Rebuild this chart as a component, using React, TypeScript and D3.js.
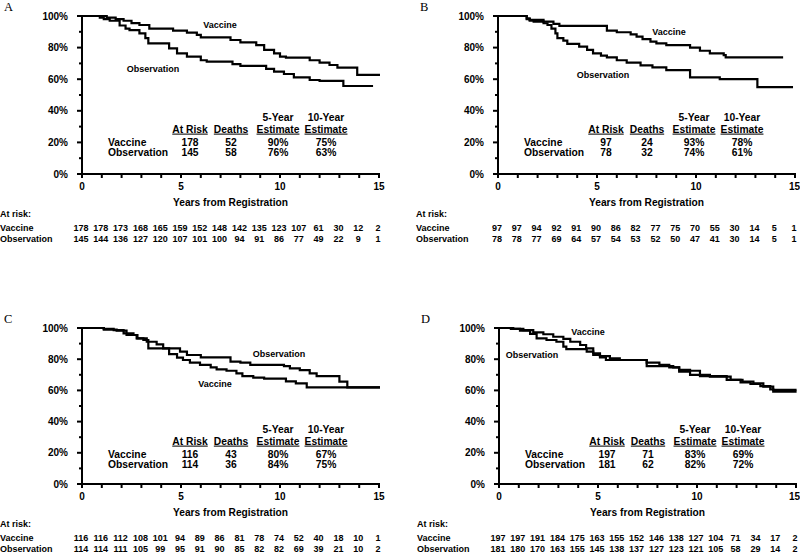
import React from "react";
import * as d3 from "d3";

// survival curves (years, fraction alive)
const aVacT = [0, 1.25, 1.7, 2.1, 2.5, 2.9, 3.4, 4.6, 5.3, 5.8, 6.0, 7.5, 8.0, 8.8, 9.2, 9.7, 10.0, 10.3, 11.5, 12.0, 12.5, 12.9, 13.9, 15.05];
const aVacS = [1, 0.99, 0.98, 0.97, 0.955, 0.943, 0.92, 0.907, 0.895, 0.88, 0.865, 0.848, 0.833, 0.816, 0.785, 0.764, 0.743, 0.736, 0.72, 0.705, 0.69, 0.673, 0.627, 0.627];
const aObsT = [0, 0.9, 1.1, 1.4, 1.9, 2.2, 2.4, 2.9, 3.2, 3.35, 4.4, 4.8, 5.3, 6.0, 6.3, 7.6, 8.0, 9.3, 9.7, 10.2, 10.7, 11.5, 12.0, 13.2, 14.7];
const aObsS = [1, 0.99, 0.98, 0.97, 0.94, 0.92, 0.91, 0.89, 0.86, 0.827, 0.795, 0.764, 0.743, 0.72, 0.711, 0.696, 0.684, 0.665, 0.648, 0.633, 0.612, 0.595, 0.589, 0.557, 0.557];

const bVacT = [0, 1.45, 1.6, 2.3, 2.8, 3.1, 5.5, 6.0, 6.7, 7.0, 7.3, 7.7, 8.0, 8.5, 9.7, 10.2, 10.7, 11.4, 11.5, 14.4];
const bVacS = [1, 0.985, 0.975, 0.964, 0.95, 0.937, 0.907, 0.897, 0.884, 0.87, 0.854, 0.838, 0.827, 0.816, 0.8, 0.78, 0.764, 0.753, 0.738, 0.738];
const bObsT = [0, 1.45, 1.6, 1.8, 2.3, 2.5, 2.7, 2.9, 3.0, 3.3, 3.5, 4.1, 4.5, 4.8, 5.2, 5.5, 6.0, 6.5, 7.2, 7.8, 8.5, 9.7, 11.2, 13.1, 14.9];
const bObsS = [1, 0.98, 0.97, 0.964, 0.954, 0.943, 0.92, 0.89, 0.86, 0.844, 0.823, 0.806, 0.785, 0.764, 0.749, 0.738, 0.72, 0.705, 0.688, 0.675, 0.658, 0.612, 0.6, 0.55, 0.55];

const cVacT = [0, 1.1, 1.75, 2.25, 2.76, 3.27, 3.77, 4.1, 4.4, 4.8, 5.1, 5.45, 5.96, 6.5, 6.8, 7.3, 7.8, 8.1, 8.65, 9.2, 10.3, 10.8, 11.35, 15.05];
const cVacS = [1, 0.99, 0.983, 0.955, 0.934, 0.912, 0.895, 0.87, 0.833, 0.81, 0.795, 0.778, 0.763, 0.748, 0.735, 0.726, 0.709, 0.692, 0.682, 0.675, 0.658, 0.645, 0.62, 0.62];
const cObsT = [0, 1.1, 1.6, 2.1, 2.6, 2.8, 3.1, 3.35, 4.95, 5.3, 6.0, 7.5, 8.0, 8.5, 10.2, 10.5, 11.0, 11.5, 11.85, 13.0, 13.4, 15.05];
const cObsS = [1, 0.995, 0.987, 0.966, 0.955, 0.934, 0.923, 0.87, 0.848, 0.827, 0.812, 0.784, 0.778, 0.763, 0.756, 0.741, 0.73, 0.709, 0.692, 0.656, 0.62, 0.62];

const dVacT = [0, 0.72, 1.23, 1.73, 2.24, 2.74, 3.25, 3.6, 4.1, 4.4, 4.76, 5.1, 5.6, 6.1, 7.46, 8.1, 8.6, 9.1, 9.65, 10.15, 10.65, 11.7, 12.2, 12.7, 13.2, 13.7, 13.85, 15.03];
const dVacS = [1, 0.995, 0.987, 0.972, 0.96, 0.944, 0.93, 0.912, 0.891, 0.87, 0.838, 0.82, 0.806, 0.795, 0.778, 0.763, 0.748, 0.731, 0.726, 0.7, 0.688, 0.667, 0.652, 0.641, 0.628, 0.607, 0.603, 0.603];
const dObsT = [0, 0.6, 1.06, 1.57, 1.9, 2.4, 2.9, 3.25, 3.4, 4.43, 4.76, 5.1, 5.4, 7.46, 8.8, 9.1, 9.65, 10.15, 11.5, 12.3, 12.85, 13.35, 13.85, 15.03];
const dObsS = [1, 0.995, 0.983, 0.962, 0.934, 0.923, 0.912, 0.88, 0.865, 0.848, 0.827, 0.812, 0.795, 0.756, 0.748, 0.72, 0.7, 0.692, 0.667, 0.656, 0.645, 0.624, 0.592, 0.592];

// numbers at risk, years 0..15
const aVacRisk = [178, 178, 173, 168, 165, 159, 152, 148, 142, 135, 123, 107, 61, 30, 12, 2];
const aObsRisk = [145, 144, 136, 127, 120, 107, 101, 100, 94, 91, 86, 77, 49, 22, 9, 1];
const bVacRisk = [97, 97, 94, 92, 91, 90, 86, 82, 77, 75, 70, 55, 30, 14, 5, 1];
const bObsRisk = [78, 78, 77, 69, 64, 57, 54, 53, 52, 50, 47, 41, 30, 14, 5, 1];
const cVacRisk = [116, 116, 112, 108, 101, 94, 89, 86, 81, 78, 74, 52, 40, 18, 10, 1];
const cObsRisk = [114, 114, 111, 105, 99, 95, 91, 90, 85, 82, 82, 69, 39, 21, 10, 2];
const dVacRisk = [197, 197, 191, 184, 175, 163, 155, 152, 146, 138, 127, 104, 71, 34, 17, 2];
const dObsRisk = [181, 180, 170, 163, 155, 145, 138, 137, 127, 123, 121, 105, 58, 29, 14, 2];

// summary tables: at risk, deaths, 5-year, 10-year
const aVacSummary = ["178", "52", "90%", "75%"];
const aObsSummary = ["145", "58", "76%", "63%"];
const bVacSummary = ["97", "24", "93%", "78%"];
const bObsSummary = ["78", "32", "74%", "61%"];
const cVacSummary = ["116", "43", "80%", "67%"];
const cObsSummary = ["114", "36", "84%", "75%"];
const dVacSummary = ["197", "71", "83%", "69%"];
const dObsSummary = ["181", "62", "82%", "72%"];

const yTicks = [0, 0.2, 0.4, 0.6, 0.8, 1];
const yMinorTicks = [0.1, 0.3, 0.5, 0.7, 0.9];
const xTicks = [0, 5, 10, 15];
const xMinorTicks = d3.range(0, 16);

const FONT = "'Liberation Sans', Arial, sans-serif";
const W = 800;

const panels = [
  { letter: "A", x0: 82, top: 16, bottom: 174, vac: [aVacT, aVacS], obs: [aObsT, aObsS], risk: [aVacRisk, aObsRisk], summary: [aVacSummary, aObsSummary], vacLabel: [6.97, 0.943], obsLabel: [3.59, 0.665] },
  { letter: "B", x0: 498, top: 16, bottom: 174, vac: [bVacT, bVacS], obs: [bObsT, bObsS], risk: [bVacRisk, bObsRisk], summary: [bVacSummary, bObsSummary], vacLabel: [8.64, 0.899], obsLabel: [5.3, 0.627] },
  { letter: "C", x0: 82, top: 328, bottom: 484, vac: [cVacT, cVacS], obs: [cObsT, cObsS], risk: [cVacRisk, cObsRisk], summary: [cVacSummary, cObsSummary], vacLabel: [6.72, 0.641], obsLabel: [9.95, 0.833] },
  { letter: "D", x0: 499, top: 328, bottom: 484, vac: [dVacT, dVacS], obs: [dObsT, dObsS], risk: [dVacRisk, dObsRisk], summary: [dVacSummary, dObsSummary], vacLabel: [4.5, 0.974], obsLabel: [1.67, 0.827] },
];

const Panel = ({ p }) => {
  const x = d3.scaleLinear().domain([0, 15]).range([p.x0, p.x0 + 297]);
  const y = d3.scaleLinear().domain([0, 1]).range([p.bottom, p.top]);
  const line = d3
    .line()
    .x((d) => x(d[0]))
    .y((d) => y(d[1]))
    .curve(d3.curveStepAfter);
  const pts = (ts, ss) => ts.map((t, i) => [t, ss[i]]);

  const cols = [108, 149, 196, 244];
  const rowNames = ["Vaccine", "Observation"];
  const bold = { fontFamily: FONT, fontWeight: "bold" };

  return (
    <g>
      <text x={p.x0 - 78} y={p.top - 5} style={{ fontFamily: "'Liberation Serif', 'Times New Roman', serif", fontSize: 12.5 }}>
        {p.letter}
      </text>

      {/* curves */}
      <path d={line(pts(p.vac[0], p.vac[1]))} fill="none" stroke="#000" strokeWidth={2.2} />
      <path d={line(pts(p.obs[0], p.obs[1]))} fill="none" stroke="#000" strokeWidth={2.2} />

      {/* axes */}
      <line x1={p.x0} x2={p.x0} y1={p.top} y2={p.bottom + 1} stroke="#000" strokeWidth={2} />
      <line x1={p.x0 - 1} x2={x(15) + 1} y1={p.bottom} y2={p.bottom} stroke="#000" strokeWidth={2} />
      {yTicks.map((v) => (
        <g key={"y" + v}>
          <line x1={p.x0 - 5} x2={p.x0} y1={y(v)} y2={y(v)} stroke="#000" strokeWidth={2} />
          <text x={p.x0 - 14} y={y(v)} dy="0.35em" textAnchor="end" style={{ ...bold, fontSize: 10 }}>
            {d3.format(".0%")(v)}
          </text>
        </g>
      ))}
      {yMinorTicks.map((v) => (
        <line key={"ym" + v} x1={p.x0 - 3} x2={p.x0} y1={y(v)} y2={y(v)} stroke="#000" strokeWidth={2} />
      ))}
      {xMinorTicks.map((v) => (
        <line key={"xm" + v} x1={x(v)} x2={x(v)} y1={p.bottom} y2={p.bottom + 4} stroke="#000" strokeWidth={2} />
      ))}
      {xTicks.map((v) => {
        const edge = x(v) + 6 > W;
        return (
          <text key={"x" + v} x={edge ? W : x(v)} y={p.bottom + 12} dy="0.35em" textAnchor={edge ? "end" : "middle"} style={{ ...bold, fontSize: 10 }}>
            {v}
          </text>
        );
      })}
      <text x={(x(0) + x(15)) / 2} y={p.bottom + 28} dy="0.35em" textAnchor="middle" style={{ ...bold, fontSize: 10.2 }}>
        Years from Registration
      </text>

      {/* curve labels */}
      <text x={x(p.vacLabel[0])} y={y(p.vacLabel[1])} dy="0.35em" textAnchor="middle" style={{ ...bold, fontSize: 9 }}>
        Vaccine
      </text>
      <text x={x(p.obsLabel[0])} y={y(p.obsLabel[1])} dy="0.35em" textAnchor="middle" style={{ ...bold, fontSize: 9 }}>
        Observation
      </text>

      {/* summary table */}
      <g style={{ ...bold, fontSize: 10.3 }}>
        <text x={p.x0 + cols[2]} y={p.top + 101} dy="0.35em" textAnchor="middle">5-Year</text>
        <text x={p.x0 + cols[3]} y={p.top + 101} dy="0.35em" textAnchor="middle">10-Year</text>
        {["At Risk", "Deaths", "Estimate", "Estimate"].map((h, i) => (
          <text key={h + i} x={p.x0 + cols[i]} y={p.top + 113} dy="0.35em" textAnchor="middle" textDecoration="underline">
            {h}
          </text>
        ))}
        {p.summary.map((row, r) => (
          <g key={"s" + r}>
            <text x={p.x0 + 26} y={p.top + 126 + r * 10} dy="0.35em">{rowNames[r]}</text>
            {row.map((v, i) => (
              <text key={i} x={p.x0 + cols[i]} y={p.top + 126 + r * 10} dy="0.35em" textAnchor="middle">
                {v}
              </text>
            ))}
          </g>
        ))}
      </g>

      {/* at risk */}
      <g style={{ ...bold, fontSize: 9 }}>
        <text x={p.x0 - 82} y={p.bottom + 40} dy="0.35em">At risk:</text>
        {p.risk.map((row, r) => (
          <g key={"r" + r}>
            <text x={p.x0 - 82} y={p.bottom + 54 + r * 11} dy="0.35em">{rowNames[r]}</text>
            {row.map((v, i) => (
              <text key={i} x={x(i) - 1} y={p.bottom + 54 + r * 11} dy="0.35em" textAnchor="middle">
                {v}
              </text>
            ))}
          </g>
        ))}
      </g>
    </g>
  );
};

export default function App() {
  return (
    <svg width={W} height={554} style={{ position: "absolute", left: 0, top: 0, background: "#fff" }}>
      {panels.map((p) => (
        <Panel key={p.letter} p={p} />
      ))}
    </svg>
  );
}
